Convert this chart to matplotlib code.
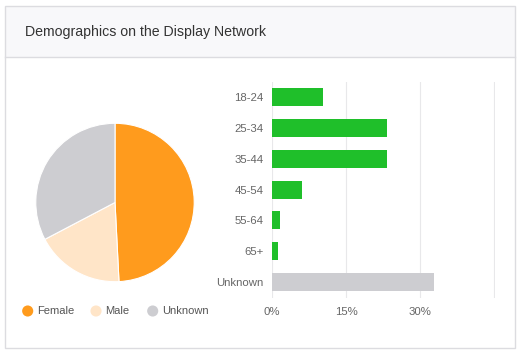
import matplotlib.pyplot as plt
from matplotlib.patches import Rectangle

plt.rcParams['font.family'] = ['Liberation Sans', 'DejaVu Sans']

title = "Demographics on the Display Network"

# gender split (pie)
genders = ["Female", "Male", "Unknown"]
gender_share = [49.2, 18.1, 32.7]
gender_colors = ["#ff9b1d", "#ffe5c8", "#cdcdd1"]

# age split (bars)
ages = ["18-24", "25-34", "35-44", "45-54", "55-64", "65+", "Unknown"]
age_share = [10.3, 23.4, 23.4, 6.0, 1.6, 1.15, 32.8]
age_colors = ["#1fbf2a"] * 6 + ["#cdcdd1"]
xticks = [0, 15, 30, 45]
xtick_labels = ["0%", "15%", "30%", ""]

W, H = 523, 352
fig = plt.figure(figsize=(W / 100, H / 100), dpi=100)

def px(x0, y0, x1, y1):
    # pixel box (top-left origin) -> figure fraction rect
    return [x0 / W, 1 - y1 / H, (x1 - x0) / W, (y1 - y0) / H]

# card + header
bg = fig.add_axes([0, 0, 1, 1])
bg.set_xlim(0, W)
bg.set_ylim(H, 0)
bg.axis("off")
bg.add_patch(Rectangle((5, 6), 510, 51, facecolor="#f8f8fa", edgecolor="none"))
bg.add_patch(Rectangle((5, 6), 510, 342, facecolor="none", edgecolor="#dcdce0", lw=1))
bg.plot([5, 515], [57, 57], color="#dcdce0", lw=1)
bg.text(25, 32, title, fontsize=10.2, color="#333333", va="center", ha="left")

# pie
ax_pie = fig.add_axes(px(35, 122.5, 195, 282.5))
ax_pie.pie(gender_share, colors=gender_colors, startangle=90, counterclock=False,
           radius=1, wedgeprops=dict(edgecolor="white", linewidth=0.8))
ax_pie.set_xlim(-1.01, 1.01)
ax_pie.set_ylim(-1.01, 1.01)
ax_pie.set_aspect("equal")

# legend
lx = [27.7, 96, 152.7]
for x, name, c in zip(lx, genders, gender_colors):
    bg.scatter([x], [311], s=64, color=c, edgecolors="none")
    bg.text(x + 9.5, 311, name, fontsize=8, color="#555555", va="center", ha="left")

# bars
ax = fig.add_axes(px(272, 81.7, 272 + 222 * 45.3 / 45, 297.5))
y = list(range(len(ages)))
ax.barh(y, age_share, height=0.58, color=age_colors, zorder=2)
ax.set_ylim(len(ages) - 0.5, -0.5)
ax.set_xlim(0, 45.3)
ax.set_yticks(y)
ax.set_yticklabels(ages)
ax.set_xticks(xticks)
ax.set_xticklabels(xtick_labels)
ax.grid(axis="x", color="#e8e8ea", lw=0.8, zorder=0)
for s in ax.spines.values():
    s.set_visible(False)
ax.tick_params(length=0, labelsize=8.2, labelcolor="#666666")
ax.tick_params(axis="y", pad=6)
ax.tick_params(axis="x", pad=7)

fig.savefig("out.png", dpi=100)
